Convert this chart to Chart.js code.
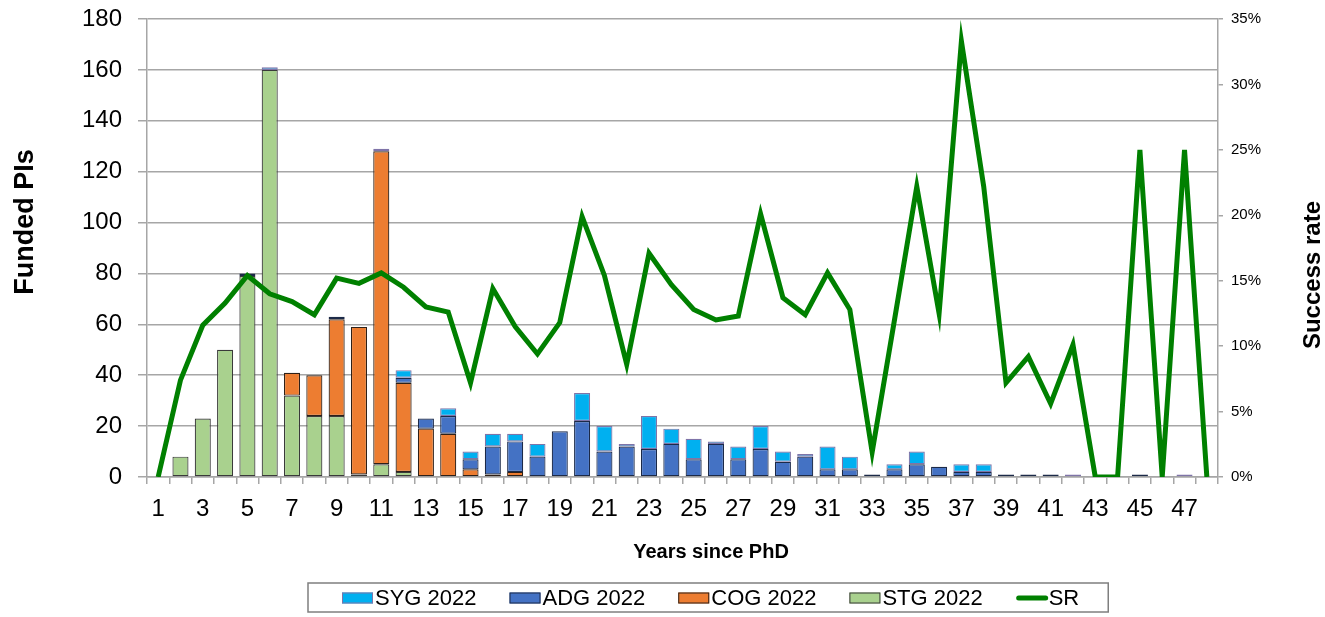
<!DOCTYPE html>
<html>
<head>
<meta charset="utf-8">
<title>Funded PIs and success rate by years since PhD</title>
<script src="https://cdn.jsdelivr.net/npm/chart.js@4.4.0/dist/chart.umd.min.js"></script>
<style>
  body { margin: 0; background: #fff; }
  canvas { display: block; }
</style>
</head>
<body>
<canvas id="myChart" width="1325" height="617"></canvas>
<script>
"use strict";
// years since PhD, 1..48
var years = ["1","2","3","4","5","6","7","8","9","10","11","12","13","14","15","16",
    "17","18","19","20","21","22","23","24","25","26","27","28","29","30","31","32",
    "33","34","35","36","37","38","39","40","41","42","43","44","45","46","47","48"];

// funded PIs per grant type (stacked, bottom to top: STG, COG, ADG, SYG)
var stg2022 = [0, 8, 23, 50, 79, 160, 32, 24, 24, 1, 5, 2, 0, 0, 0, 0,
    0, 0, 0, 0, 0, 0, 0, 0, 0, 0, 0, 0, 0, 0, 0, 0,
    0, 0, 0, 0, 0, 0, 0, 0, 0, 0, 0, 0, 0, 0, 0, 0];
var cog2022 = [0, 0, 0, 0, 0, 0, 9, 16, 38, 58, 123, 35, 19, 17, 3, 1,
    2, 0, 0, 0, 0, 0, 0, 0, 0, 0, 0, 0, 0, 0, 0, 0,
    0, 0, 0, 0, 0, 0, 0, 0, 0, 0, 0, 0, 0, 0, 0, 0];
var adg2022 = [0, 0, 0, 0, 1, 0, 0, 0, 1, 0, 0, 2, 4, 7, 4, 11,
    12, 8, 18, 22, 10, 12, 11, 13, 7, 13, 7, 11, 6, 8, 3, 3,
    1, 3, 5, 4, 2, 2, 1, 1, 1, 0, 0, 0, 1, 0, 0, 0];
var syg2022 = [0, 0, 0, 0, 0, 1, 0, 0, 0, 0, 1, 3, 0, 3, 3, 5,
    3, 5, 0, 11, 10, 1, 13, 6, 8, 1, 5, 9, 4, 1, 9, 5,
    0, 2, 5, 0, 3, 3, 0, 0, 0, 1, 0, 0, 0, 0, 1, 0];

// success rate in %
var successRate = [0, 7.4, 11.6, 13.3, 15.4, 14.0, 13.4, 12.4, 15.2, 14.8, 15.6, 14.5, 13.0, 12.6, 7.2, 14.4,
    11.5, 9.4, 11.8, 19.9, 15.4, 8.6, 17.1, 14.7, 12.8, 12.0, 12.3, 20.1, 13.7, 12.4, 15.6, 12.8,
    1.9, 12.0, 22.2, 12.5, 33.3, 22.2, 7.2, 9.2, 5.6, 10.1, 0, 0, 25.0, 0, 25.0, 0];

var leftTicks = [0, 20, 40, 60, 80, 100, 120, 140, 160, 180];
var rightTicks = [0, 5, 10, 15, 20, 25, 30, 35];

var fontFamily = "'Liberation Sans', Arial, sans-serif";
var gridColor = "#a6a6a6";

// order of the entries in the boxed legend (dataset indexes)
var legendOrder = [3, 2, 1, 0, 4];

var axisTitles = {
    id: 'axisTitles',
    afterDraw: function (chart) {
        var ctx = chart.ctx;
        ctx.save();
        ctx.fillStyle = '#000';
        ctx.textAlign = 'center';
        ctx.textBaseline = 'middle';

        ctx.save();
        ctx.font = 'bold 27px ' + fontFamily;
        ctx.translate(26, 222);
        ctx.rotate(-Math.PI / 2);
        ctx.fillText('Funded PIs', 0, 0);
        ctx.restore();

        ctx.save();
        ctx.font = 'bold 24px ' + fontFamily;
        ctx.translate(1313, 275);
        ctx.rotate(-Math.PI / 2);
        ctx.fillText('Success rate', 0, 0);
        ctx.restore();

        ctx.font = 'bold 20px ' + fontFamily;
        ctx.fillText('Years since PhD', 711, 552);
        ctx.restore();
    }
};

var boxLegend = {
    id: 'boxLegend',
    afterDraw: function (chart) {
        var ctx = chart.ctx;
        var x = 342, y = 598;
        ctx.save();
        ctx.font = '22px ' + fontFamily;
        ctx.textBaseline = 'middle';
        ctx.textAlign = 'left';
        legendOrder.forEach(function (idx) {
            var ds = chart.data.datasets[idx];
            if (ds.type === 'line') {
                ctx.strokeStyle = ds.borderColor;
                ctx.lineWidth = 5;
                ctx.lineCap = 'round';
                ctx.beginPath();
                ctx.moveTo(x + 3, y);
                ctx.lineTo(x + 30, y);
                ctx.stroke();
            } else {
                ctx.fillStyle = ds.backgroundColor;
                ctx.fillRect(x, y - 5.5, 31, 11);
                ctx.strokeStyle = ds.borderColor;
                ctx.lineWidth = 1;
                ctx.strokeRect(x + 0.5, y - 5, 30, 10);
            }
            ctx.fillStyle = '#000';
            ctx.fillText(ds.label, x + 33, y + 1);
            x += 33 + ctx.measureText(ds.label).width + 33;
        });
        ctx.strokeStyle = '#7f7f7f';
        ctx.lineWidth = 1.5;
        ctx.strokeRect(308, 583, (x - 33 + 29) - 308, 29);
        ctx.restore();
    }
};

function fixWidth(w) {
    return function (s) {
        s.width = w;
        s.paddingTop = 0;
        s.paddingBottom = 0;
    };
}

var ctx = document.getElementById('myChart').getContext('2d');
var myChart = new Chart(ctx, {
    type: 'bar',
    data: {
        labels: years,
        datasets: [{
            label: 'STG 2022',
            data: stg2022,
            backgroundColor: '#a9d18e',
            borderColor: '#3a3a3a',
            borderWidth: 1.2,
            borderSkipped: false,
            stack: 'pis'
        }, {
            label: 'COG 2022',
            data: cog2022,
            backgroundColor: '#ed7d31',
            borderColor: '#2e2018',
            borderWidth: 1.2,
            borderSkipped: false,
            stack: 'pis'
        }, {
            label: 'ADG 2022',
            data: adg2022,
            backgroundColor: '#4472c4',
            borderColor: '#1c2a48',
            borderWidth: 1.2,
            borderSkipped: false,
            stack: 'pis'
        }, {
            label: 'SYG 2022',
            data: syg2022,
            backgroundColor: '#00b0f0',
            borderColor: '#7f74a8',
            borderWidth: 1.2,
            borderSkipped: false,
            stack: 'pis'
        }, {
            type: 'line',
            label: 'SR',
            data: successRate,
            yAxisID: 'y1',
            borderColor: '#008000',
            backgroundColor: '#008000',
            borderWidth: 5,
            pointRadius: 0,
            tension: 0,
            order: -1
        }]
    },
    options: {
        responsive: false,
        animation: false,
        devicePixelRatio: 1,
        categoryPercentage: 1,
        barPercentage: 0.72,
        font: { family: fontFamily },
        layout: { padding: { top: 19, bottom: 38, left: 0, right: 0 } },
        plugins: {
            legend: { display: false },
            tooltip: { enabled: false }
        },
        scales: {
            x: {
                stacked: true,
                grid: { drawOnChartArea: false, tickLength: 7, color: gridColor, lineWidth: 1.5 },
                border: { color: gridColor, width: 1.5 },
                ticks: {
                    autoSkip: false,
                    maxRotation: 0,
                    padding: 11,
                    color: '#000',
                    font: { family: fontFamily, size: 24 },
                    callback: function (val, i) { return i % 2 === 0 ? years[i] : ''; }
                },
                afterFit: function (s) { s.height = 102; }
            },
            y: {
                stacked: true,
                min: leftTicks[0],
                max: leftTicks[leftTicks.length - 1],
                ticks: {
                    stepSize: leftTicks[1] - leftTicks[0],
                    padding: 16,
                    color: '#000',
                    font: { family: fontFamily, size: 24 }
                },
                grid: { color: gridColor, lineWidth: 1.5, tickLength: 9 },
                border: { color: gridColor, width: 1.5 },
                afterFit: fixWidth(147)
            },
            y1: {
                position: 'right',
                min: rightTicks[0],
                max: rightTicks[rightTicks.length - 1],
                ticks: {
                    stepSize: rightTicks[1] - rightTicks[0],
                    padding: 8,
                    color: '#000',
                    font: { family: fontFamily, size: 15 },
                    callback: function (v) { return v + '%'; }
                },
                grid: { drawOnChartArea: false, tickLength: 5, color: gridColor, lineWidth: 1.5 },
                border: { color: gridColor, width: 1.5 },
                afterFit: fixWidth(107)
            }
        }
    },
    plugins: [axisTitles, boxLegend]
});
</script>
</body>
</html>
